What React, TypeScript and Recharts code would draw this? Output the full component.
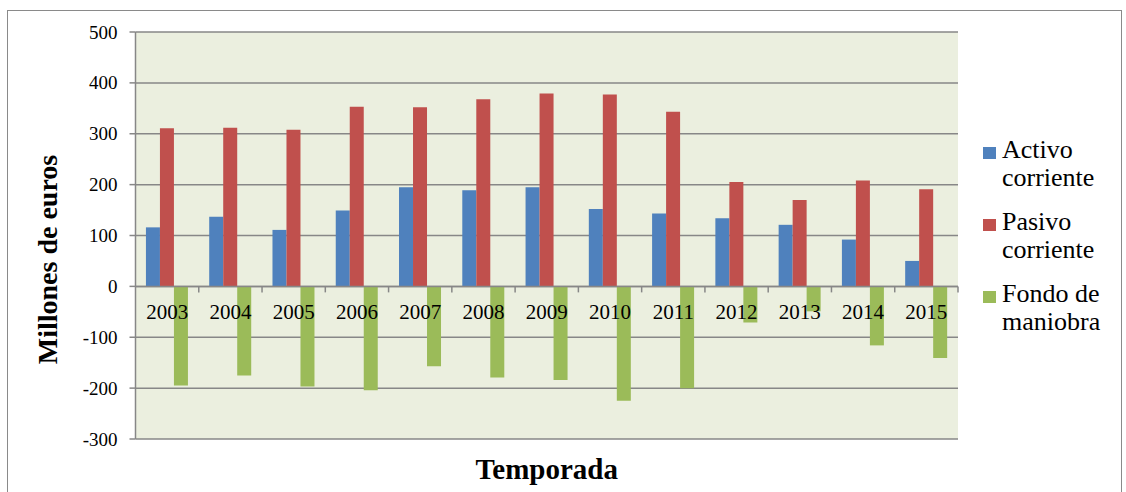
import { BarChart, Bar, XAxis, YAxis, CartesianGrid, ReferenceLine } from "recharts";

const YEARS = ["2003", "2004", "2005", "2006", "2007", "2008", "2009", "2010", "2011", "2012", "2013", "2014", "2015"];
const ACTIVO = [116, 137, 111, 149, 195, 189, 195, 152, 143, 134, 121, 92, 50];
const PASIVO = [311, 312, 308, 353, 352, 368, 379, 377, 343, 205, 170, 208, 191];
const FONDO = [-195, -175, -197, -204, -157, -179, -184, -225, -200, -71, -49, -116, -141];
const Y_TICKS = [-300, -200, -100, 0, 100, 200, 300, 400, 500];

const SERIES = [
  { key: "activo", name: "Activo corriente", color: "#4F81BD" },
  { key: "pasivo", name: "Pasivo corriente", color: "#C0504D" },
  { key: "fondo", name: "Fondo de maniobra", color: "#9BBB59" },
];

const FONT = "'Liberation Serif', 'Times New Roman', Times, serif";
const GRID = "#878787";

const rows = YEARS.map((year, i) => ({
  year,
  activo: ACTIVO[i],
  pasivo: PASIVO[i],
  fondo: FONDO[i],
}));

// zero line doubles as the category axis: line, ticks between years, year labels
function ZeroAxis(props: any) {
  const { x1, x2, y1 } = props;
  if (x1 == null || x2 == null || y1 == null) return null;
  const w = (x2 - x1) / YEARS.length;
  return (
    <g>
      <line x1={x1} x2={x2} y1={y1} y2={y1} stroke={GRID} strokeWidth={1.5} />
      {YEARS.map((_, i) => (
        <line
          key={`t${i}`}
          x1={x1 + (i + 1) * w}
          x2={x1 + (i + 1) * w}
          y1={y1}
          y2={y1 + 6}
          stroke={GRID}
          strokeWidth={1.5}
        />
      ))}
      {YEARS.map((y, i) => (
        <text
          key={y}
          x={x1 + (i + 0.5) * w}
          y={y1 + 26}
          textAnchor="middle"
          dominantBaseline="central"
          style={{ fontFamily: FONT, fontSize: 21 }}
          fill="#000"
        >
          {y}
        </text>
      ))}
    </g>
  );
}

function YTick(props: any) {
  const { x, y, payload } = props;
  return (
    <text
      x={x}
      y={y}
      textAnchor="end"
      dominantBaseline="central"
      style={{ fontFamily: FONT, fontSize: 19 }}
      fill="#000"
    >
      {payload.value}
    </text>
  );
}

function LegendBox() {
  return (
    <div
      style={{
        position: "absolute",
        left: 983,
        top: 136,
        fontFamily: FONT,
        fontSize: 26,
        lineHeight: "28px",
        color: "#000",
      }}
    >
      {SERIES.map((s) => (
        <div key={s.key} style={{ display: "flex", alignItems: "flex-start", marginBottom: 16 }}>
          <span
            style={{
              display: "inline-block",
              width: 13,
              height: 12,
              background: s.color,
              marginTop: 11,
              marginRight: 6,
              flexShrink: 0,
            }}
          />
          <span style={{ width: 120 }}>{s.name}</span>
        </div>
      ))}
    </div>
  );
}

export default function App() {
  return (
    <div
      style={{
        position: "absolute",
        left: 0,
        top: 0,
        width: 1126,
        height: 492,
        background: "#fff",
        fontFamily: FONT,
      }}
    >
      <div
        style={{
          position: "absolute",
          left: 7,
          top: 10,
          width: 1115,
          height: 490,
          border: "1.5px solid #8a8a8a",
          boxSizing: "border-box",
        }}
      />
      <BarChart
        width={1126}
        height={492}
        data={rows}
        margin={{ top: 32, right: 168, left: 0, bottom: 0 }}
        barCategoryGap="16.5%"
        barGap={0}
      >
        <CartesianGrid vertical={false} stroke={GRID} strokeWidth={1.5} fill="#EBEFDF" fillOpacity={1} />
        <XAxis
          dataKey="year"
          height={53}
          tick={false}
          tickLine={false}
          axisLine={false}
          label={{
            value: "Temporada",
            position: "center",
            dy: 3,
            style: { fontFamily: FONT, fontSize: 29, fontWeight: 700, fill: "#000" },
          }}
        />
        <YAxis
          width={135.5}
          domain={[-300, 500]}
          ticks={Y_TICKS}
          interval={0}
          tickSize={6}
          tickMargin={12}
          tick={YTick}
          tickLine={{ stroke: GRID, strokeWidth: 1.5 }}
          axisLine={{ stroke: GRID, strokeWidth: 1.5 }}
          label={{
            content: (p: any) => {
              const vb = p.viewBox;
              const cx = vb.x + 47;
              const cy = vb.y + vb.height / 2 + 24;
              return (
                <text
                  x={cx}
                  y={cy}
                  transform={`rotate(-90, ${cx}, ${cy})`}
                  textAnchor="middle"
                  dominantBaseline="central"
                  style={{ fontFamily: FONT, fontSize: 28, fontWeight: 700 }}
                  fill="#000"
                >
                  Millones de euros
                </text>
              );
            },
          }}
        />
        {SERIES.map((s) => (
          <Bar key={s.key} dataKey={s.key} name={s.name} fill={s.color} isAnimationActive={false} />
        ))}
        <ReferenceLine y={0} shape={ZeroAxis} />
      </BarChart>
      <LegendBox />
    </div>
  );
}
